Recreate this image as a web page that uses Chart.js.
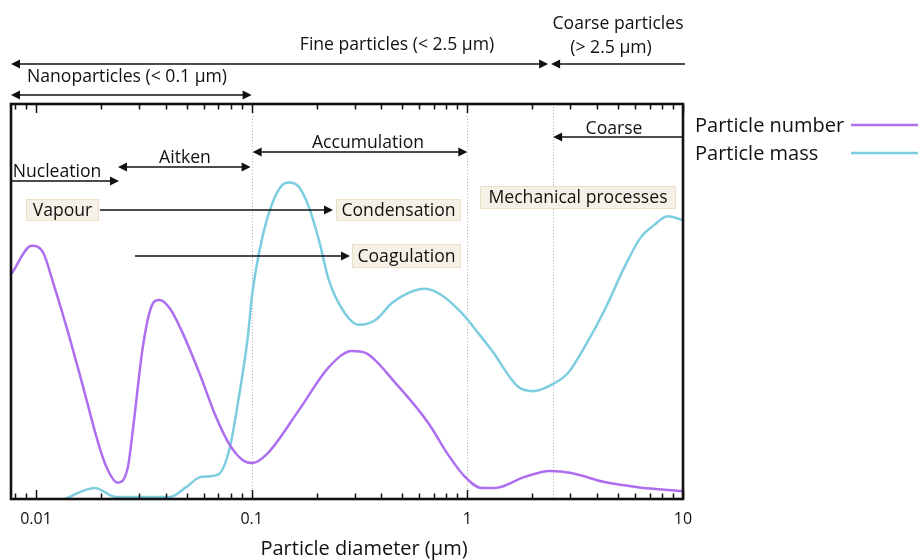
<!DOCTYPE html>
<html>
<head>
<meta charset="utf-8">
<script src="https://cdn.jsdelivr.net/npm/chart.js@4.4.0/dist/chart.umd.min.js"></script>
<style>
  html, body { margin: 0; padding: 0; background: #fff; }
</style>
</head>
<body>
<canvas id="myChart" width="918" height="560"></canvas>
<script>
// particle diameter range (um), log axis
const xMin = 0.00766
const xMax = 10
const tickValues = [0.01, 0.1, 1, 10]
const tickLabels = ['0.01', '0.1', '1', '10']

// particle number size distribution
const numberX = [0.00772, 0.00955, 0.01081, 0.01202, 0.01386, 0.01654, 0.01908, 0.02121, 0.02399, 0.02668, 0.02814, 0.0313, 0.03423, 0.03738, 0.04157, 0.0479, 0.05721, 0.06833, 0.07872, 0.09069, 0.1009, 0.1179, 0.1657, 0.228, 0.2921, 0.3369, 0.4636, 0.6606, 0.817, 0.9759, 1.164, 1.342, 1.847, 2.41, 3.032, 4.325, 6.164, 10]
const numberY = [57.1, 64.1, 62.3, 54.7, 43.5, 28.4, 15.7, 8.1, 4.1, 8.1, 17.5, 38.5, 48.6, 50.4, 48.4, 42.0, 31.9, 20.8, 13.9, 9.9, 9.1, 11.4, 22.5, 33.4, 37.5, 37.0, 29.4, 19.2, 11.1, 5.6, 2.8, 2.8, 5.6, 7.1, 6.6, 4.3, 3.0, 2.0]

// particle mass size distribution
const massX = [0.01361, 0.01873, 0.02359, 0.04157, 0.04967, 0.05825, 0.0695, 0.07872, 0.08755, 0.09563, 0.1009, 0.1122, 0.1248, 0.1388, 0.149, 0.1657, 0.1843, 0.205, 0.228, 0.27, 0.3136, 0.3747, 0.447, 0.5338, 0.6375, 0.7607, 0.9412, 1.124, 1.295, 1.72, 2.018, 2.452, 2.928, 3.497, 4.325, 5.351, 6.383, 7.362, 8.48, 10]
const massY = [0, 2.8, 0.5, 0.5, 3.0, 5.6, 6.1, 12.4, 26.3, 40.3, 52.4, 66.3, 74.9, 79.5, 80.1, 79.0, 73.9, 65.6, 55.4, 47.1, 44.1, 45.3, 49.6, 52.2, 53.2, 51.6, 47.1, 42.0, 37.7, 28.4, 27.3, 28.9, 31.9, 38.5, 47.8, 58.7, 66.3, 69.4, 71.6, 70.6]

const seriesLabels = ['Particle number', 'Particle mass']
const seriesColors = ['#ad6ff0', '#7dcde0']

const FONT = "'Open Sans', sans-serif"
const NOTE = 17.6

function toPoints(xs, ys) {
    return xs.map((x, i) => ({ x: x, y: ys[i] }))
}

function head(ctx, x, y, dir) {
    ctx.beginPath()
    ctx.moveTo(x, y)
    ctx.lineTo(x - dir * 9, y - 4.5)
    ctx.lineTo(x - dir * 9, y + 4.5)
    ctx.closePath()
    ctx.fill()
}

function arrow(ctx, x1, x2, y, left, right) {
    ctx.beginPath()
    ctx.moveTo(x1 + (left ? 6 : 0), y)
    ctx.lineTo(x2 - (right ? 6 : 0), y)
    ctx.stroke()
    if (left) head(ctx, x1, y, -1)
    if (right) head(ctx, x2, y, 1)
}

function label(ctx, text, x, y, size, align) {
    ctx.font = size + 'px ' + FONT
    ctx.textAlign = align || 'center'
    ctx.textBaseline = 'middle'
    ctx.fillText(text, x, y)
}

function boxLabel(ctx, text, x, y, w, h, size) {
    ctx.fillStyle = '#f6f1e7'
    ctx.strokeStyle = '#ece0c8'
    ctx.lineWidth = 1
    ctx.fillRect(x, y, w, h)
    ctx.strokeRect(x + 0.5, y + 0.5, w - 1, h - 1)
    ctx.fillStyle = '#111'
    label(ctx, text, x + w / 2, y + h / 2 + 0.5, size)
}

const decorations = {
    id: 'decorations',
    beforeDatasetsDraw(chart) {
        const ctx = chart.ctx
        const a = chart.chartArea
        const px = v => chart.scales.x.getPixelForValue(v)
        ctx.save()
        // dotted boundaries
        ctx.strokeStyle = '#b5b5b5'
        ctx.lineWidth = 1
        ctx.setLineDash([1, 2])
        ;[0.1, 1, 2.5].forEach(v => {
            const x = Math.round(px(v)) + 0.5
            ctx.beginPath()
            ctx.moveTo(x, a.top)
            ctx.lineTo(x, a.bottom)
            ctx.stroke()
        })
        ctx.restore()
    },
    afterDatasetsDraw(chart) {
        const ctx = chart.ctx
        const a = chart.chartArea
        const px = v => chart.scales.x.getPixelForValue(v)
        ctx.save()

        // inward ticks, top and bottom
        ctx.strokeStyle = '#111'
        ctx.lineWidth = 1.5
        for (let k = -3; k <= 1; k++) {
            for (let m = 1; m <= 9; m++) {
                const v = m * Math.pow(10, k)
                if (v < xMin || v > xMax * 1.0001) continue
                const x = Math.round(px(v)) + 0.5
                const len = m === 1 ? 9 : 5.5
                ctx.beginPath()
                ctx.moveTo(x, a.bottom)
                ctx.lineTo(x, a.bottom - len)
                ctx.moveTo(x, a.top)
                ctx.lineTo(x, a.top + len)
                ctx.stroke()
            }
        }

        // frame
        ctx.lineWidth = 2.6
        ctx.strokeStyle = '#111'
        ctx.strokeRect(a.left, a.top, a.right - a.left, a.bottom - a.top)

        // axis title
        ctx.fillStyle = '#111'
        label(ctx, 'Particle diameter (µm)', 364, 549, 20)

        // size ranges above plot
        ctx.lineWidth = 1.4
        ctx.strokeStyle = '#111'
        ctx.fillStyle = '#111'
        const x25 = px(2.5)
        const x01 = px(0.1)
        const x1 = px(1)
        arrow(ctx, a.left, x25 - 5, 64, true, true)
        label(ctx, 'Fine particles (< 2.5 µm)', 397, 45, NOTE)
        arrow(ctx, x25 - 2, a.right + 2, 64, true, false)
        label(ctx, 'Coarse particles', 618, 24, NOTE)
        label(ctx, '(> 2.5 µm)', 611, 48, NOTE)
        arrow(ctx, a.left, x01, 95, true, true)
        label(ctx, 'Nanoparticles (< 0.1 µm)', 127, 77, NOTE)

        // modes inside plot
        arrow(ctx, x25, a.right, 137, true, false)
        label(ctx, 'Coarse', 614, 129, NOTE)
        arrow(ctx, x01 + 1, x1, 152, true, true)
        label(ctx, 'Accumulation', 368, 143, NOTE)
        arrow(ctx, 118, x01 - 1, 167, true, true)
        label(ctx, 'Aitken', 185, 158, NOTE)
        arrow(ctx, a.left, 119, 181, false, true)
        label(ctx, 'Nucleation', 57, 172, NOTE)

        // processes
        arrow(ctx, 100, 333, 210, false, true)
        arrow(ctx, 135, 350, 256, false, true)
        boxLabel(ctx, 'Vapour', 26, 199, 73, 22, NOTE)
        boxLabel(ctx, 'Condensation', 336, 199, 125, 22, NOTE)
        boxLabel(ctx, 'Coagulation', 352, 244, 109, 24, NOTE)
        boxLabel(ctx, 'Mechanical processes', 480, 186, 196, 23, NOTE)

        // legend
        const ys = [126, 154]
        chart.data.datasets.forEach((ds, i) => {
            ctx.fillStyle = '#111'
            label(ctx, ds.label, 695, ys[i], 20, 'left')
            ctx.strokeStyle = ds.borderColor
            ctx.lineWidth = 2.5
            ctx.beginPath()
            ctx.moveTo(851, ys[i] - 1)
            ctx.lineTo(918, ys[i] - 1)
            ctx.stroke()
        })
        ctx.restore()
    }
}

const ctx = document.getElementById('myChart').getContext('2d')

const data = {
    datasets: [
        { label: seriesLabels[0], data: toPoints(numberX, numberY), borderColor: seriesColors[0] },
        { label: seriesLabels[1], data: toPoints(massX, massY), borderColor: seriesColors[1] }
    ].map(ds => Object.assign(ds, {
        borderWidth: 2.5,
        pointRadius: 0,
        fill: false,
        cubicInterpolationMode: 'monotone'
    }))
}

const config = {
    type: 'line',
    data: data,
    options: {
        responsive: false,
        animation: false,
        layout: { padding: { left: 11, right: 235, top: 104, bottom: 0 } },
        plugins: {
            legend: { display: false },
            tooltip: { enabled: false }
        },
        scales: {
            x: {
                type: 'logarithmic',
                min: xMin,
                max: xMax,
                grid: { display: false, drawTicks: false },
                border: { display: false },
                ticks: {
                    autoSkip: false,
                    maxRotation: 0,
                    padding: 11,
                    color: '#111',
                    font: { family: FONT, size: 16 },
                    callback: function (v) {
                        const i = tickValues.findIndex(t => Math.abs(Math.log10(t) - Math.log10(v)) < 1e-6)
                        return i >= 0 ? tickLabels[i] : ''
                    }
                },
                afterFit: s => { s.height = 61 }
            },
            y: { display: false, min: 0, max: 100 }
        }
    },
    plugins: [decorations]
}

const myChart = new Chart(ctx, config)
</script>
</body>
</html>
